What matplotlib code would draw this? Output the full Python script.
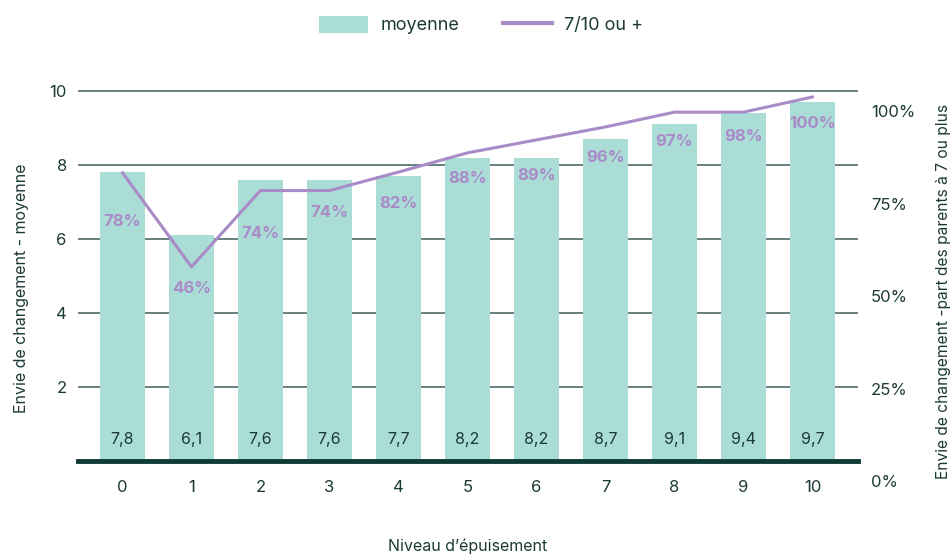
import matplotlib
matplotlib.use("Agg")
import matplotlib.pyplot as plt
import matplotlib.transforms as mtransforms
from matplotlib.patches import Patch
from matplotlib.lines import Line2D

# données
niveaux = [0, 1, 2, 3, 4, 5, 6, 7, 8, 9, 10]
moyenne = [7.8, 6.1, 7.6, 7.6, 7.7, 8.2, 8.2, 8.7, 9.1, 9.4, 9.7]
part_7_plus = [77.9, 52.5, 73.1, 73.1, 78.1, 83.3, 86.8, 90.3, 94.3, 94.3, 98.4]
pct_labels = ["78%", "46%", "74%", "74%", "82%", "88%", "89%", "96%", "97%", "98%", "100%"]
moy_labels = ["7,8", "6,1", "7,6", "7,6", "7,7", "8,2", "8,2", "8,7", "9,1", "9,4", "9,7"]

# où sont posées les étiquettes % (en unités de l'axe gauche)
pct_label_y = [6.47, 4.67, 6.16, 6.71, 6.95, 7.64, 7.71, 8.2, 8.65, 8.76, 9.13]

bar_color = "#abddd7"
line_color = "#a98bc8"
text_color = "#1b3a36"
grid_color = "#4d6b67"

plt.rcParams["font.family"] = ["Inter", "DejaVu Sans"]

fig = plt.figure(figsize=(9.53, 5.55), dpi=100)
ax = fig.add_axes([0.0818, 0.1694, 0.8185, 0.6865])
ax2 = ax.twinx()

ax.set_axisbelow(True)
ax.bar(niveaux, moyenne, width=0.652, color=bar_color, zorder=2)
ax.set_xlim(-0.645, 10.66)
ax.set_ylim(0, 10.3)
ax.set_yticks([2, 4, 6, 8, 10])
ax.set_xticks(niveaux)
ax.grid(axis="y", color=grid_color, linewidth=1.2)
for s in ["top", "right", "left"]:
    ax.spines[s].set_visible(False)
ax.spines["bottom"].set_color("#0f3b36")
ax.spines["bottom"].set_linewidth(3.5)
ax.spines["bottom"].set_zorder(5)
ax.tick_params(axis="both", length=0, colors=text_color, labelsize=12)
ax.tick_params(axis="y", pad=8)
ax.tick_params(axis="x", pad=14)
ax.set_ylabel("Envie de changement - moyenne", color=text_color, fontsize=11.5, labelpad=15)
ax.yaxis.label.set_y(0.454)
ax.set_xlabel("Niveau d’épuisement", color=text_color, fontsize=11.5, labelpad=31)

for x, v in zip(niveaux, moy_labels):
    ax.text(x, 0.57, v, ha="center", va="center", color=text_color, fontsize=11.5, zorder=4)

for x, y, t in zip(niveaux, pct_label_y, pct_labels):
    ax.text(x, y, t, ha="center", va="center", color=line_color, fontsize=12,
            fontweight="bold", zorder=4)

ax2.plot(niveaux, part_7_plus, color=line_color, linewidth=2.2, zorder=3)
ax2.set_ylim(0, 103)
ax2.set_yticks([0, 25, 50, 75, 100])
ax2.set_yticklabels(["0%", "25%", "50%", "75%", "100%"])
for s in ["top", "right", "left", "bottom"]:
    ax2.spines[s].set_visible(False)
ax2.tick_params(axis="y", length=0, colors=text_color, labelsize=12, pad=9.5)
offset = mtransforms.ScaledTranslation(0, -20 / 100, fig.dpi_scale_trans)
for lbl in ax2.get_yticklabels():
    lbl.set_transform(lbl.get_transform() + offset)
ax2.set_ylabel("Envie de changement -part des parents à 7 ou plus", color=text_color,
               fontsize=11.2, labelpad=15)
ax2.yaxis.label.set_y(0.446)

handles = [Patch(facecolor=bar_color, edgecolor="none"),
           Line2D([0], [0], color=line_color, linewidth=3)]
fig.legend(handles, ["moyenne", "7/10 ou +"], loc="center", bbox_to_anchor=(0.505, 0.955),
           ncol=2, frameon=False, fontsize=13, labelcolor=text_color,
           handlelength=2.7, handleheight=1.1, handletextpad=0.7, columnspacing=2.4)

fig.savefig("out.png", dpi=100)
